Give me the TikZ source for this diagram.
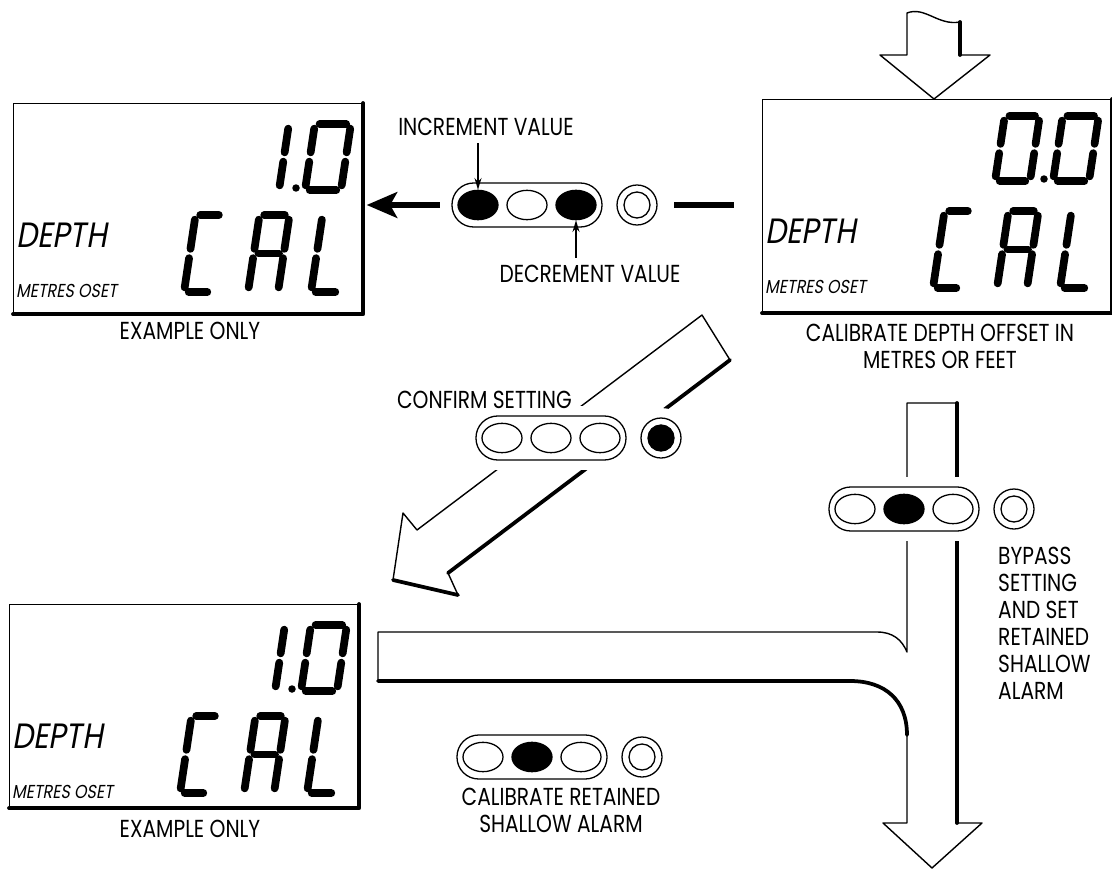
\documentclass[tikz,border=0pt]{standalone}
\usepackage{fontspec}
\newfontfamily\notefont[FakeStretch=0.82]{Poppins}
\newfontfamily\lcdfont[FakeStretch=0.85,FakeSlant=0.18]{Poppins}
\usetikzlibrary{shapes.geometric}
\usetikzlibrary{arrows.meta}

% segments of the liquid crystal characters (u/v from bottom left)
\def\lcdsegzero{0/1/1/1, 1/1/1/.5, 1/.5/1/0, 0/0/1/0, 0/0/0/.5, 0/.5/0/1}
\def\lcdsegone{1/1/1/.5, 1/.5/1/0}
\def\lcdsegC{0/1/1/1, 0/0/1/0, 0/0/0/.5, 0/.5/0/1}
\def\lcdsegA{0/1/1/1, 1/1/1/.5, 1/.5/1/0, 0/0/0/.5, 0/.5/0/1, 0/.5/1/.5}
\def\lcdsegL{0/0/1/0, 0/0/0/.5, 0/.5/0/1}

\tikzset{
  notetext/.style={font=\notefont\fontsize{21}{23}\selectfont, inner sep=0pt, align=center},
  depthtext/.style={font=\lcdfont\fontsize{30}{32}\selectfont, inner sep=0pt, anchor=west},
  unittext/.style={font=\lcdfont\fontsize{16}{18}\selectfont, inner sep=0pt, anchor=west},
  lcdframe/.style={draw, line width=1pt, fill=white, inner sep=0pt, anchor=north west, minimum width=10.47cm},
  heavyedge/.style={line width=3.2pt, line cap=round, line join=round},
  lcdseg/.style={line width=6.6pt, line cap=round, shorten <=4pt, shorten >=4pt},
  blockarrow/.style={draw, fill=white, line width=1.2pt, line join=round},
  pill/.style={draw, fill=white, line width=1.1pt, rounded corners=0.65cm, minimum width=4.5cm,
    minimum height=1.32cm, inner sep=0pt, preaction={draw=white, line width=17pt}},
  lamp/.style={ellipse, draw, line width=1.1pt, minimum width=1.2cm, minimum height=0.88cm, inner sep=0pt, fill=white},
  lampon/.style={lamp, fill=black},
  ring/.style={circle, draw, line width=1.1pt, minimum size=1.2cm, inner sep=0pt, fill=white,
    preaction={draw=white, line width=17pt}},
  core/.style={circle, draw, line width=1.1pt, minimum size=0.78cm, inner sep=0pt},
  coreon/.style={core, fill=black},
  callout/.style={line width=1pt, -{Stealth[length=10pt,width=6pt]}},
  flowarrow/.style={line width=4.5pt, -{Stealth[length=26pt,width=22pt,inset=6pt]}},
}

% one liquid crystal character: base left x, base y, width, height, segments
\newcommand{\lcdchar}[5]{%
  \begin{scope}[shift={(#1,#2)}, xslant=0.15, xscale=#3, yscale=-#4]
    \foreach \ua/\va/\ub/\vb in #5 {\draw[lcdseg] (\ua,\va) -- (\ub,\vb);}
  \end{scope}}

% display window: name, left, top, height
\newcommand{\lcdscreen}[4]{%
  \node[lcdframe, minimum height=#4*0.03cm] (#1) at (#2,#3) {};
  \draw[heavyedge] (#1.north east) -- (#1.south east) -- (#1.south west);
  \node[depthtext] (#1-depth) at (#2+3,#3+132) {DEPTH};
  \node[unittext] (#1-unit) at (#2+3,#3+188) {METRES OSET};
  \lcdchar{#2+171}{#3+189}{28}{77}{\lcdsegC}
  \lcdchar{#2+235}{#3+189}{30}{77}{\lcdsegA}
  \lcdchar{#2+298}{#3+189}{29}{77}{\lcdsegL}}

% key pad: name, x, y, three lamps, ring core
\newcommand{\keypad}[7]{%
  \node[pill] (#1) at (#2,#3) {};
  \node[#4] (#1-a) at (#2-49,#3) {};
  \node[#5] (#1-b) at (#2,#3) {};
  \node[#6] (#1-c) at (#2+49,#3) {};
  \node[ring] (#1-ring) at (#2+110,#3) {};
  \node[#7] (#1-core) at (#2+110,#3) {};}

\begin{document}
\begin{tikzpicture}[x=0.03cm, y=-0.03cm]
\useasboundingbox (0,0) rectangle (1112,870);

% big flow arrows
\draw[blockarrow] (907,13) .. controls (925,6) and (938,26) .. (960,22) -- (960,55) -- (990,55)
   -- (934,99) -- (880,55) -- (907,55) -- cycle;
\draw[heavyedge] (960,22) -- (960,55);
\draw[blockarrow] (702,315) -- (730,360) -- (448,573) -- (458,595) -- (393,580) -- (403,513)
   -- (417,530) -- cycle;
\draw[heavyedge] (730,360) -- (448,573);
\draw[heavyedge] (393,580) -- (458,595);
\draw[blockarrow] (907,403) -- (957,403) -- (957,823) -- (982,823) -- (932,868) -- (883,823)
   -- (907,823) -- (907,735) .. controls (907,700) and (885,681) .. (850,681) -- (378,681)
   -- (378,632) -- (877,632) .. controls (893,632) and (902,640) .. (907,652) -- cycle;
\draw[heavyedge] (957,403) -- (957,823);
\draw[heavyedge] (378,681) -- (850,681) .. controls (885,681) and (907,700) .. (907,735);

% displays
\lcdscreen{scrA}{13}{103}{210}
\lcdscreen{scrB}{762}{99}{213}
\lcdscreen{scrC}{9}{604}{203}
\lcdchar{242}{190}{37}{66}{\lcdsegone}
\fill (296,188) circle [radius=3.2pt];
\lcdchar{305}{190}{36}{66}{\lcdsegzero}
\lcdchar{995}{181}{35}{65}{\lcdsegzero}
\fill (1044,179) circle [radius=3.2pt];
\lcdchar{1053}{181}{36}{65}{\lcdsegzero}
\lcdchar{238}{691}{37}{66}{\lcdsegone}
\fill (292,689) circle [radius=3.2pt];
\lcdchar{301}{691}{36}{66}{\lcdsegzero}

% key pads
\keypad{kpA}{527}{205}{lampon}{lamp}{lampon}{core}
\keypad{kpB}{551}{438}{lamp}{lamp}{lamp}{coreon}
\keypad{kpC}{904}{509}{lamp}{lampon}{lamp}{core}
\keypad{kpD}{532}{757}{lamp}{lampon}{lamp}{core}

% texts
\node[notetext] (incr) at (486,127) {INCREMENT VALUE};
\node[notetext] (decr) at (590,274) {DECREMENT VALUE};
\node[notetext] (exA) at (190,331) {EXAMPLE ONLY};
\node[notetext] (exC) at (190,829) {EXAMPLE ONLY};
\node[notetext] (offset) at (940,346) {CALIBRATE DEPTH OFFSET IN\\METRES OR FEET};
\node[notetext, anchor=east] (confirm) at (572,400) {CONFIRM SETTING};
\node[notetext, align=left, anchor=north west] (bypass) at (998,547)
   {BYPASS\\SETTING\\AND SET\\RETAINED\\SHALLOW\\ALARM};
\node[notetext] (shallow) at (561,810) {CALIBRATE RETAINED\\SHALLOW ALARM};

% connectors
\draw[callout, shorten <=6pt] (kpA-a.north |- incr.south) -- (kpA-a.north);
\draw[callout, shorten <=6pt] (kpA-c.south |- decr.north) -- (kpA-c.south);
\draw[flowarrow, shorten <=10pt, shorten >=3pt] (kpA.west) -- (scrA.east |- kpA.west);
\draw[line width=4.5pt, shorten <=14pt, shorten >=24pt] (kpA-ring.east) -- (scrB.west |- kpA-ring.east);
\end{tikzpicture}
\end{document}
